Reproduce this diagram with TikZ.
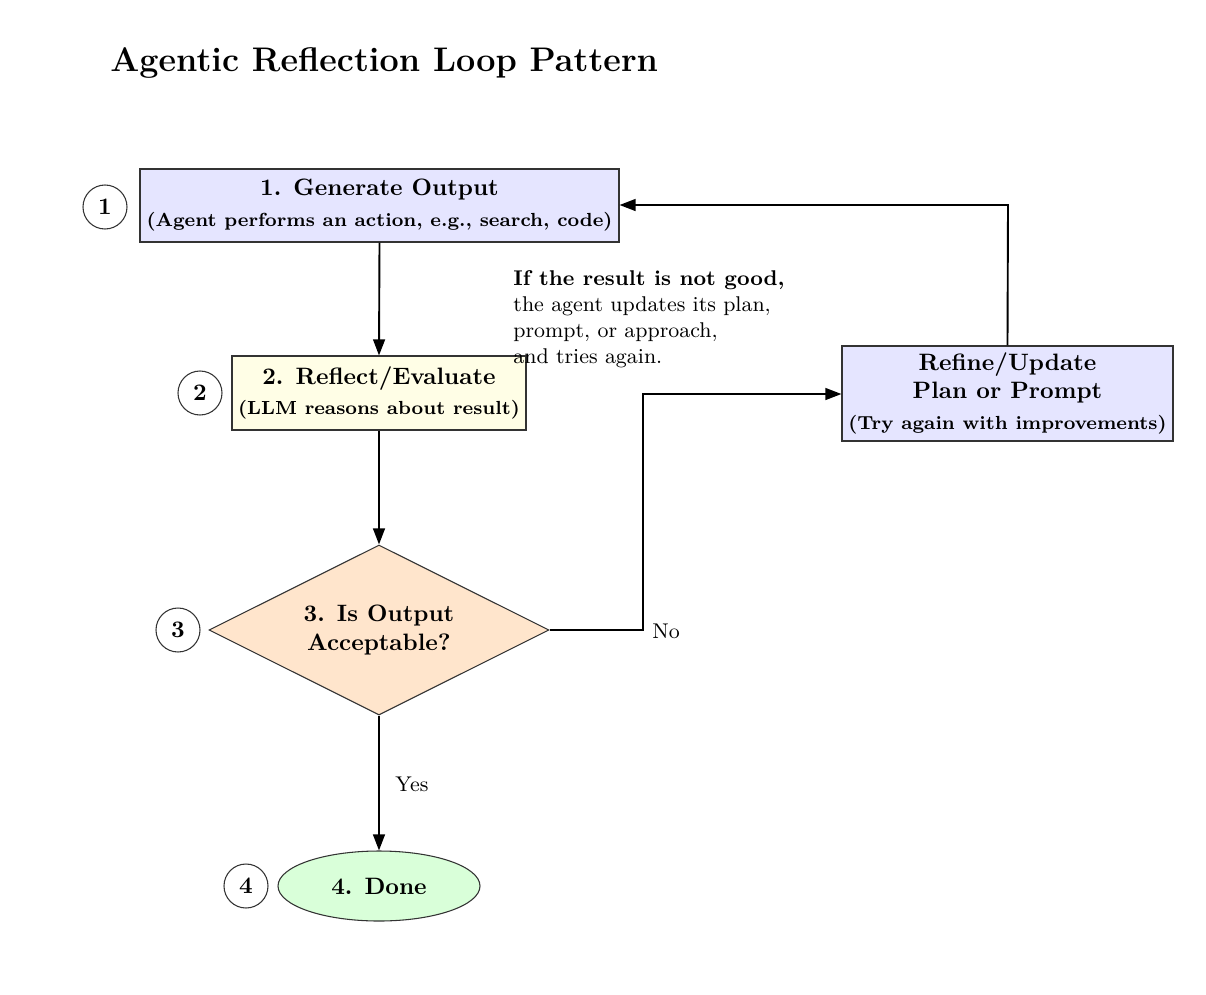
\documentclass[tikz,border=0pt]{standalone}
\usetikzlibrary{shapes.geometric,arrows.meta}
\def\u{0.4219pt}
\tikzset{
  box/.style={draw=black!80, line width=0.45pt, rectangle, inner sep=0pt, align=center, font=\bfseries},
  dec/.style={draw=black!80, line width=0.45pt, diamond, aspect=2, inner sep=0pt, align=center, font=\bfseries, fill=orange!20},
  endnode/.style={draw=black!80, line width=0.45pt, ellipse, inner sep=0pt, font=\bfseries, fill=green!15},
  num/.style={draw=black!80, line width=0.45pt, circle, inner sep=0pt, minimum size=44*\u, font=\bfseries},
  conn/.style={line width=0.8pt, -{Triangle[length=6.8pt,width=5pt]}},
  lbl/.style={font=\small, inner sep=0pt}
}
\begin{document}
\begin{tikzpicture}[x=\u, y=-\u]
\useasboundingbox (0,0) rectangle (1206,994);
\node[anchor=west, font=\Large\bfseries, inner sep=0pt] (title) at (110,63) {Agentic Reflection Loop Pattern};

\node[box, fill=blue!10, minimum width=479*\u, minimum height=73*\u] (gen) at (379.5,205.5)
  {1. Generate Output\\[1pt]{\footnotesize (Agent performs an action, e.g., search, code)}};
\node[box, fill=yellow!10, minimum width=294*\u, minimum height=74*\u] (refl) at (379,393)
  {2. Reflect/Evaluate\\[1pt]{\footnotesize (LLM reasons about result)}};
\node[dec, minimum width=340*\u, minimum height=170*\u] (acc) at (379,630)
  {3. Is Output\\Acceptable?};
\node[endnode, minimum width=202*\u, minimum height=70*\u] (done) at (379,886) {4. Done};
\node[box, fill=blue!10, minimum width=331*\u, minimum height=95*\u] (ref) at (1007.5,393.5)
  {Refine/Update\\Plan or Prompt\\[1pt]{\footnotesize (Try again with improvements)}};

\node[num] (n1) at (105,207) {1};
\node[num] (n2) at (200,393) {2};
\node[num] (n3) at (178,630) {3};
\node[num] (n4) at (246,886) {4};

\node[anchor=north west, align=left, inner sep=0pt, font=\small] (note) at (513,270)
  {\textbf{If the result is not good,}\\the agent updates its plan,\\prompt, or approach,\\and tries again.};

\coordinate (c1) at (643,630);
\coordinate (c2) at (643,394);
\coordinate (c3) at (1008,205);

\draw[conn] (gen.south) -- (refl.north);
\draw[conn] (refl.south) -- (acc.north);
\draw[conn] (acc.south) -- (done.north);
\draw[conn] (acc.east) -- (c1) -- (c2) -- (c2 -| ref.west);
\draw[conn] (ref.north) -- (c3) -- (c3 -| gen.east);

\node[lbl, anchor=west] (yes) at (395,784) {Yes};
\node[lbl, anchor=west] (no) at (652,631) {No};
\end{tikzpicture}
\end{document}
